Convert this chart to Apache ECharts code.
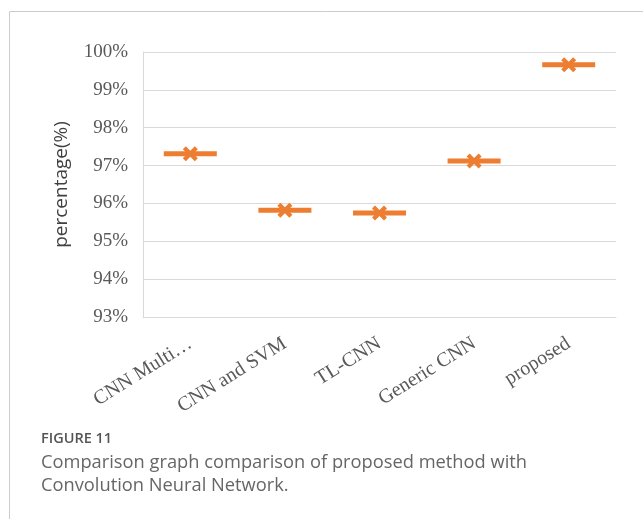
<!DOCTYPE html>
<html>
<head>
<meta charset="utf-8">
<script src="https://cdn.jsdelivr.net/npm/echarts@6/dist/echarts.min.js"></script>
<style>
  html, body { margin: 0; padding: 0; background: #fff; }
  #chart { width: 643px; height: 519px; }
</style>
</head>
<body>
<div id="chart"></div>
<script>
// Methods compared
const categories = ['CNN Multi…', 'CNN and SVM', 'TL-CNN', 'Generic CNN', 'proposed'];
// Accuracy of each method (%)
const accuracy = [97.31, 95.82, 95.75, 97.12, 99.66];
// Value axis range (%)
const yMin = 93;
const yMax = 100;
const yStep = 1;

const ORANGE = '#ED7D31';
const GRID = '#D9D9D9';
const SERIF = '"Liberation Serif", "DejaVu Serif", serif';
const SANS = '"Open Sans", "Noto Sans", sans-serif';

// Thick "x" marker
const crossPath = 'path://M0,2 L2,0 L5,3 L8,0 L10,2 L7,5 L10,8 L8,10 L5,7 L2,10 L0,8 L3,5 Z';

const chart = echarts.init(document.getElementById('chart'), null, { renderer: 'canvas' });

chart.setOption({
  animation: false,
  backgroundColor: '#fff',
  grid: { left: 143, top: 52, right: 27, bottom: 202, containLabel: false },
  xAxis: {
    type: 'category',
    data: categories,
    boundaryGap: true,
    axisLine: { show: true, lineStyle: { color: GRID, width: 1 } },
    axisTick: { show: false },
    axisLabel: {
      interval: 0,
      rotate: 32,
      margin: 25,
      color: '#595959',
      fontFamily: SERIF,
      fontSize: 20
    },
    splitLine: { show: false }
  },
  yAxis: {
    type: 'value',
    min: yMin,
    max: yMax,
    interval: yStep,
    name: 'percentage(%)',
    nameLocation: 'middle',
    nameGap: 72,
    nameTextStyle: { color: '#404040', fontFamily: SANS, fontSize: 19 },
    axisLine: { show: true, lineStyle: { color: GRID, width: 1 } },
    axisTick: { show: false },
    axisLabel: {
      margin: 15,
      color: '#595959',
      fontFamily: SERIF,
      fontSize: 19,
      formatter: '{value}%'
    },
    splitLine: { show: true, lineStyle: { color: GRID, width: 1 } }
  },
  series: [
    {
      type: 'scatter',
      data: accuracy,
      symbol: 'rect',
      symbolSize: [53, 5],
      itemStyle: { color: ORANGE, opacity: 1 },
      z: 2
    },
    {
      type: 'scatter',
      data: accuracy,
      symbol: crossPath,
      symbolSize: 15,
      itemStyle: { color: ORANGE, opacity: 1 },
      z: 3
    }
  ],
  graphic: [
    {
      type: 'polyline',
      shape: { points: [[9.5, 519], [9.5, 11.5], [643, 11.5]] },
      style: { stroke: '#CCCCCC', lineWidth: 1, fill: null },
      silent: true
    },
    {
      type: 'text',
      left: 41,
      top: 431,
      style: { text: 'FIGURE 11', fill: '#555555', font: '600 14.5px "Open Sans", sans-serif' }
    },
    {
      type: 'text',
      left: 41,
      top: 451,
      style: {
        text: 'Comparison graph comparison of proposed method with\nConvolution Neural Network.',
        fill: '#666666',
        font: '18.3px "Open Sans", sans-serif',
        lineHeight: 23.5
      }
    }
  ]
});
</script>
</body>
</html>
